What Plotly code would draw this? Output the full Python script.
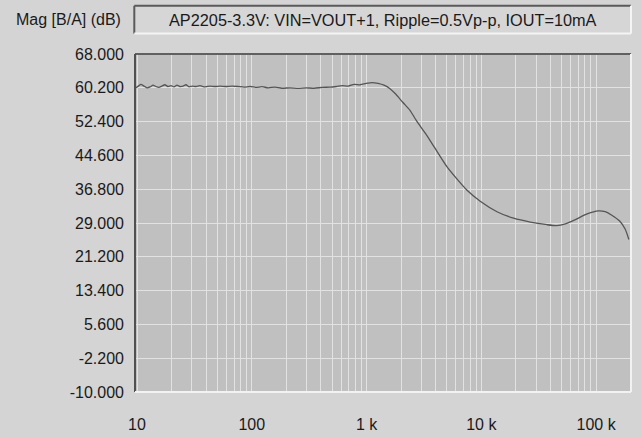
import plotly.graph_objects as go

# Frequency (Hz) and magnitude (dB)
freq_hz = [9.8, 10.4, 10.8, 11.5, 12.2, 13.0, 13.8, 14.6, 15.5, 16.5, 17.5, 18.6, 19.8,
           21.0, 22.3, 23.7, 25.2, 26.7, 28.4, 30.2, 32.7, 35.4, 39.1, 43.3, 47.9, 52.9,
           59.6, 67.3, 76.0, 85.8, 96.9, 109, 123, 138.8, 159.5, 183, 216, 254, 297, 349,
           410, 481, 545, 614, 692, 780, 880, 991, 1117, 1259, 1419, 1600, 1803, 2075,
           2390, 2720, 3270, 3830, 5010, 6020, 7470, 9780, 13690, 19100, 26700, 37300,
           45200, 54000, 63900, 83500, 104700, 120000, 137000, 161000, 179000, 193000]
mag_db = [60.2, 60.7, 61.0, 60.6, 60.2, 60.4, 60.8, 60.5, 60.3, 60.6, 60.9, 60.5, 60.7,
          60.4, 60.8, 60.5, 60.6, 60.9, 60.4, 60.6, 60.5, 60.7, 60.4, 60.6, 60.5, 60.6,
          60.5, 60.6, 60.5, 60.35, 60.5, 60.3, 60.45, 60.2, 60.35, 60.1, 60.2, 60.05, 60.2, 60.1,
          60.3, 60.35, 60.5, 60.7, 60.6, 61.0, 60.9, 61.2, 61.4, 61.2, 60.8, 60.0, 58.7, 56.8,
          55.0, 52.6, 49.6, 46.8, 42.0, 39.4, 36.6, 34.0, 31.6, 30.1, 29.2, 28.6,
          28.4, 28.8, 29.6, 31.1, 31.8, 31.6, 30.8, 29.4, 27.6, 25.2]

y_ticks = [-10.0, -2.2, 5.6, 13.4, 21.2, 29.0, 36.8, 44.6, 52.4, 60.2, 68.0]
y_tick_labels = ["-10.000", "-2.200", "5.600", "13.400", "21.200", "29.000",
                 "36.800", "44.600", "52.400", "60.200", "68.000"]
x_ticks = [10, 100, 1000, 10000, 100000]
x_tick_labels = ["10", "100", "1 k", "10 k", "100 k"]

title_text = "AP2205-3.3V: VIN=VOUT+1, Ripple=0.5Vp-p, IOUT=10mA"
y_label = "Mag [B/A] (dB)"

FONT = "Liberation Sans, Arial, sans-serif"
PAGE_BG = "#d4d4d4"
PLOT_BG = "#c0c0c0"
GRID = "#e2e2e2"

fig = go.Figure()
fig.add_trace(go.Scatter(x=freq_hz, y=mag_db, mode="lines",
                         line=dict(color="#555555", width=1.3, shape="spline", smoothing=0.6),
                         hoverinfo="skip", showlegend=False))

fig.update_layout(
    width=642, height=437,
    margin=dict(l=135, r=11, t=54, b=45),
    paper_bgcolor=PAGE_BG, plot_bgcolor=PLOT_BG,
    font=dict(family=FONT, size=16, color="#1a1a1a"),
    showlegend=False,
)
fig.update_xaxes(
    type="log", range=[0.9826, 5.304],
    tickvals=x_ticks, ticktext=x_tick_labels,
    showgrid=True, gridcolor=GRID, gridwidth=1,
    minor=dict(dtick="D1", showgrid=True, gridcolor=GRID, gridwidth=1, ticks=""),
    ticks="", zeroline=False, showline=False,
    ticklabelstandoff=21, automargin=False,
    tickfont=dict(size=16),
)
fig.update_yaxes(
    range=[-10, 68], tickvals=y_ticks, ticktext=y_tick_labels,
    showgrid=True, gridcolor=GRID, gridwidth=1,
    ticks="", zeroline=False, showline=False,
    ticklabelstandoff=10, automargin=False,
    tickfont=dict(size=16),
)

# Inset 3D frame around plot area
frame = [
    dict(x0=0, x1=1, y0=1, y1=1, color="#606060", w=2),
    dict(x0=0, x1=0, y0=0, y1=1, color="#505050", w=2),
    dict(x0=0, x1=1, y0=0, y1=0, color="#f2f2f2", w=2),
    dict(x0=1, x1=1, y0=0, y1=1, color="#f2f2f2", w=2),
]
for f in frame:
    fig.add_shape(type="line", xref="paper", yref="paper",
                  x0=f["x0"], x1=f["x1"], y0=f["y0"], y1=f["y1"],
                  line=dict(color=f["color"], width=f["w"]))

# Title box (inset style)
bx0, bx1, by0, by1 = -0.0014, 1.0, 1.0603, 1.1427
fig.add_shape(type="rect", xref="paper", yref="paper", x0=bx0, x1=bx1, y0=by0, y1=by1,
              line=dict(width=0), fillcolor="#d6d6d6")
for (x0, x1, y0, y1, c) in [(bx0, bx1, by1, by1, "#5a5a5a"), (bx0, bx0, by0, by1, "#5a5a5a"),
                            (bx0, bx1, by0, by0, "#f4f4f4"), (bx1, bx1, by0, by1, "#f4f4f4")]:
    fig.add_shape(type="line", xref="paper", yref="paper", x0=x0, x1=x1, y0=y0, y1=y1,
                  line=dict(color=c, width=2))

fig.add_annotation(text=title_text, xref="paper", yref="paper", x=0.4995, y=1.1014,
                   showarrow=False, xanchor="center", yanchor="middle",
                   font=dict(size=16.3, family=FONT, color="#1a1a1a"))
fig.add_annotation(text=y_label, xref="paper", yref="paper", x=-0.0242, y=1.1014,
                   showarrow=False, xanchor="right", yanchor="middle",
                   font=dict(size=16, family=FONT, color="#1a1a1a"))

fig.write_html("out.html", config={"displayModeBar": False},
               post_script="document.body.style.margin='0';document.body.style.background='#d4d4d4';")
